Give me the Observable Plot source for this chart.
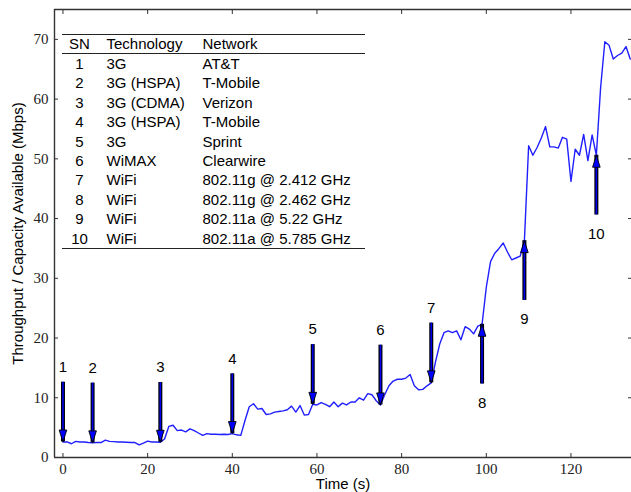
<!DOCTYPE html>
<html>
<head>
<meta charset="utf-8">
<script src="https://cdn.jsdelivr.net/npm/d3@7"></script>
<script src="https://cdn.jsdelivr.net/npm/@observablehq/plot@0.6"></script>
<style>
  html, body { margin: 0; padding: 0; background: #fff; overflow: hidden; }
</style>
</head>
<body>
<div id="chart"></div>
<script>
// ---- Data ----
const timeS = [0,1,2,3,4,5,6,7,8,9,10,11,12,13,14,15,16,17,18,19,20,21,22,23,24,25,26,27,28,29,30,31,32,33,34,35,36,37,38,39,40,41,42,43,44,45,46,47,48,49,50,51,52,53,54,55,56,57,58,59,60,61,62,63,64,65,66,67,68,69,70,71,72,73,74,75,76,77,78,79,80,81,82,83,84,85,86,87,88,89,90,91,92,93,94,95,96,97,98,99,100,101,102,103,104,105,106,107,108,109,110,111,112,113,114,115,116,117,118,119,120,121,122,123,124,125,126,127,128,129,130,131,132,133,134];
const throughput = [2.6,2.6,2.3,2.7,2.6,2.6,2.5,2.45,2.5,2.5,2.9,2.7,2.65,2.6,2.6,2.55,2.5,2.5,2.1,2.4,2.75,2.6,2.6,2.55,3.1,5.2,5.4,4.5,4.6,4.3,4.8,4.5,4.1,3.7,4.0,3.9,3.9,3.85,3.9,3.85,4.0,3.8,3.7,6.2,8.5,9.0,8.1,8.2,7.2,7.3,7.6,7.7,7.8,8.0,8.6,7.6,8.7,7.1,7.2,8.9,8.8,9.2,8.9,8.5,9.3,8.5,9.1,8.8,9.3,9.3,10.0,9.6,10.7,10.5,9.5,8.8,10.5,12.0,12.8,13.1,13.1,13.3,13.9,12.0,11.35,11.4,12.0,12.5,16.0,19.0,20.9,21.2,20.9,21.2,19.7,21.9,21.5,20.7,22.0,22.3,28.5,32.8,34.2,35.0,35.9,34.4,33.1,33.4,33.7,36.3,52.2,50.6,51.9,53.5,55.4,52.0,52.0,51.8,53.6,53.3,46.2,51.6,50.6,54.1,49.7,54.0,50.6,61.9,69.6,69.0,66.7,67.3,67.7,68.8,66.7];

const arrowSN   = [1,2,3,4,5,6,7,8,9,10];
const arrowTime = [0,7,23,40,59,75,87,99,109,126];
const arrowTip  = [2.6,2.45,2.55,4.0,8.9,8.8,12.5,22.3,36.3,50.6];
const arrowDir  = ["down","down","down","down","down","down","down","up","up","up"];
const arrowLength = 10;

const tableSN   = ["1","2","3","4","5","6","7","8","9","10"];
const tableTech = ["3G","3G (HSPA)","3G (CDMA)","3G (HSPA)","3G","WiMAX","WiFi","WiFi","WiFi","WiFi"];
const tableNet  = ["AT&T","T-Mobile","Verizon","T-Mobile","Sprint","Clearwire","802.11g @ 2.412 GHz","802.11g @ 2.462 GHz","802.11a @ 5.22 GHz","802.11a @ 5.785 GHz"];
const tableHeader = ["SN","Technology","Network"];

const xTicks = [0,20,40,60,80,100,120];
const yTicks = [0,10,20,30,40,50,60,70];
const xDomain = [-2, 134.3];
const yDomain = [0, 75];

// ---- Build ----
const series = timeS.map((t, i) => ({t, v: throughput[i]}));
const arrows = arrowSN.map((sn, i) => ({
  sn, t: arrowTime[i], tip: arrowTip[i], dir: arrowDir[i],
  tail: arrowDir[i] === "down" ? arrowTip[i] + arrowLength : arrowTip[i] - arrowLength
}));
const downA = arrows.filter(d => d.dir === "down");
const upA = arrows.filter(d => d.dir === "up");

const headUp = { draw(ctx) { ctx.moveTo(0, 0); ctx.lineTo(-3.8, 12); ctx.lineTo(3.8, 12); ctx.closePath(); } };
const headDown = { draw(ctx) { ctx.moveTo(0, 0); ctx.lineTo(-3.8, -12); ctx.lineTo(3.8, -12); ctx.closePath(); } };

const axisColor = "#333";
const serif = "Liberation Serif";
const sans = "Liberation Sans";

const chart = Plot.plot({
  width: 631,
  height: 492,
  marginLeft: 54,
  marginRight: 0,
  marginTop: 9,
  marginBottom: 35,
  style: { fontFamily: sans, fontSize: "15px", color: "#000", background: "#fff" },
  x: { domain: xDomain, axis: null },
  y: { domain: yDomain, axis: null },
  marks: [
    // ticks (inward)
    Plot.axisX(xTicks, { anchor: "bottom", tickSize: -4, tickFormat: () => "", label: null, stroke: axisColor }),
    Plot.axisX(xTicks, { anchor: "top", tickSize: -4, tickFormat: () => "", label: null, stroke: axisColor }),
    Plot.axisY(yTicks, { anchor: "left", tickSize: -4, tickFormat: () => "", label: null, stroke: axisColor }),
    Plot.axisY(yTicks, { anchor: "right", tickSize: -4, tickFormat: () => "", label: null, stroke: axisColor }),
    // tick labels
    Plot.axisX(xTicks, { anchor: "bottom", tickSize: 0, tickPadding: 6, label: null, fontFamily: serif, fontSize: 15, fill: "#222" }),
    Plot.axisY(yTicks, { anchor: "left", tickSize: 0, tickPadding: 6, label: null, fontFamily: serif, fontSize: 15, fill: "#222" }),
    // spines
    Plot.ruleY([yDomain[0], yDomain[1]], { stroke: axisColor, strokeWidth: 1.4 }),
    Plot.ruleX([xDomain[0]], { stroke: axisColor, strokeWidth: 1.4 }),
    // data line
    Plot.line(series, { x: "t", y: "v", stroke: "#1f1fff", strokeWidth: 1.4 }),
    // arrows
    Plot.ruleX(arrows, { x: "t", y1: "tail", y2: "tip", stroke: "#000", strokeWidth: 4 }),
    Plot.ruleX(arrows, { x: "t", y1: "tail", y2: "tip", stroke: "#0000ee", strokeWidth: 1.6 }),
    Plot.dot(downA, { x: "t", y: "tip", symbol: headDown, fill: "#0000ff", stroke: "#000", strokeWidth: 0.9 }),
    Plot.dot(upA, { x: "t", y: "tip", symbol: headUp, fill: "#0000ff", stroke: "#000", strokeWidth: 0.9 }),
    Plot.text(downA, { x: "t", y: "tail", text: "sn", dy: -15, fontSize: 15, fill: "#000" }),
    Plot.text(upA, { x: "t", y: "tail", text: "sn", dy: 19, fontSize: 15, fill: "#000" }),
    // axis titles
    Plot.text(["Time (s)"], { frameAnchor: "bottom", lineAnchor: "middle", dy: 27, fontSize: 15, fill: "#000" }),
    Plot.text(["Throughput / Capacity Available (Mbps)"], { frameAnchor: "left", textAnchor: "middle", lineAnchor: "middle", dx: -36, rotate: -90, fontSize: 15, fill: "#000" })
  ]
});

document.getElementById("chart").appendChild(chart);

// ---- Table legend ----
const svg = d3.select(chart);
const g = svg.append("g").attr("font-family", sans).attr("font-size", 15).attr("fill", "#000");
const x0 = 62, x1 = 365;
[34.5, 53.5, 248.5].forEach(y => {
  g.append("line").attr("x1", x0).attr("x2", x1).attr("y1", y).attr("y2", y)
    .attr("stroke", "#222").attr("stroke-width", 1.2);
});
const colX = [79.5, 106.5, 202.5];
const colAnchor = ["middle", "start", "start"];
tableHeader.forEach((h, j) => {
  g.append("text").attr("x", colX[j]).attr("y", 48.8).attr("text-anchor", colAnchor[j]).text(h);
});
tableSN.forEach((sn, i) => {
  const y = 68.8 + i * 19.44;
  [sn, tableTech[i], tableNet[i]].forEach((s, j) => {
    g.append("text").attr("x", colX[j]).attr("y", y).attr("text-anchor", colAnchor[j]).text(s);
  });
});
</script>
</body>
</html>
